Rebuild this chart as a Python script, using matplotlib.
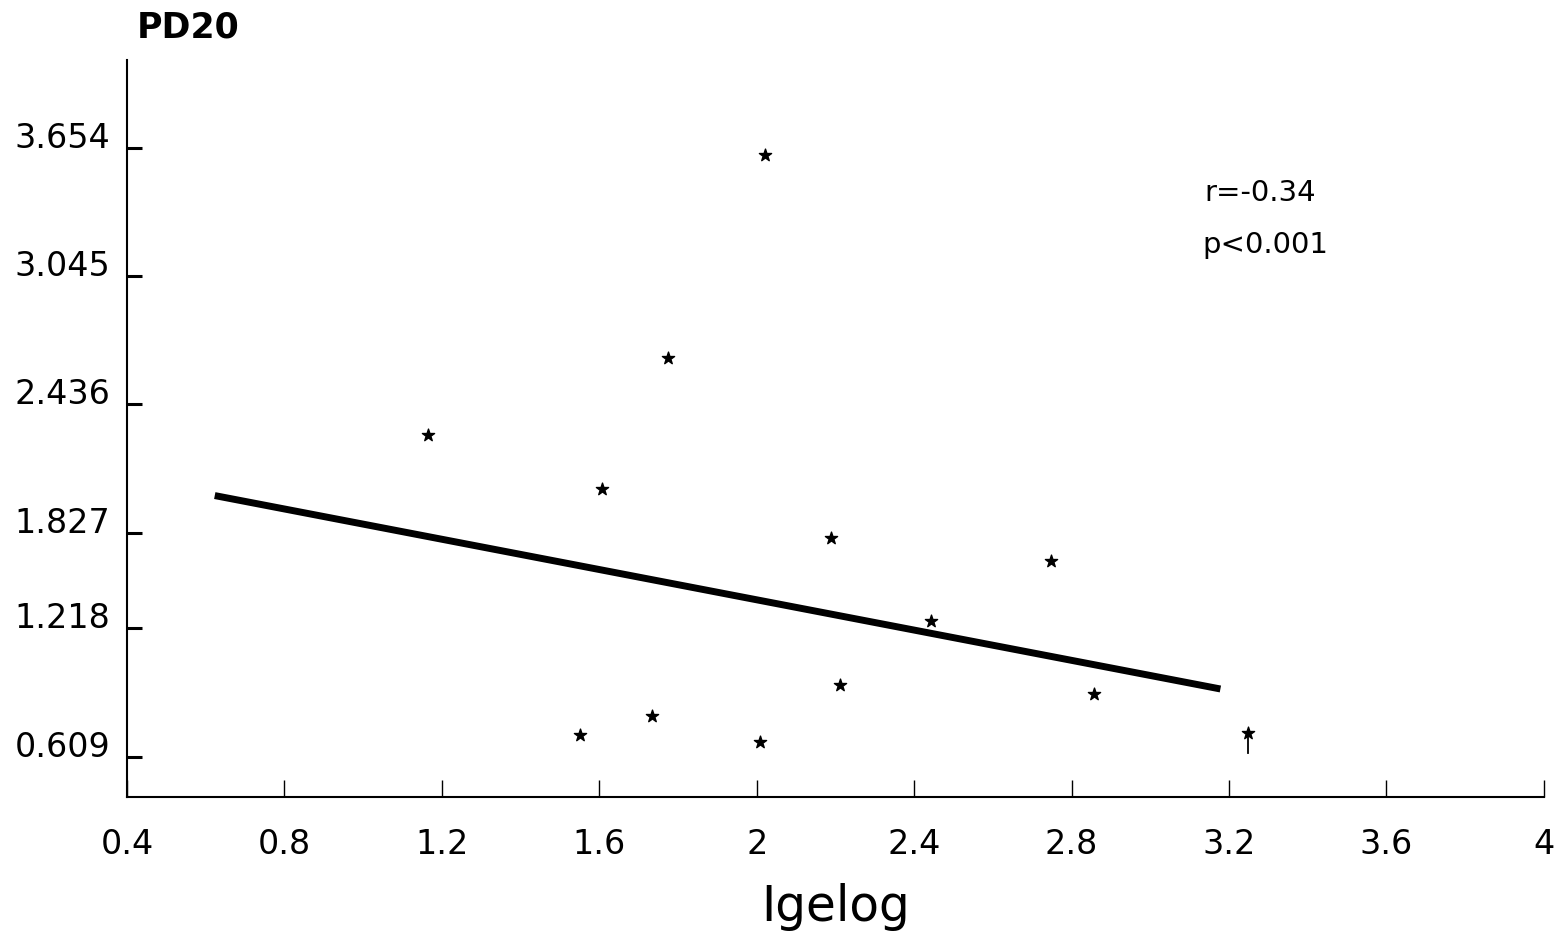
import matplotlib
matplotlib.use("Agg")
import matplotlib.pyplot as plt

# data
igelog = [1.166, 1.550, 1.606, 1.733, 1.775, 2.009, 2.020, 2.188, 2.211, 2.442, 2.747, 2.858, 3.249]
pd20 = [2.219, 0.717, 1.951, 0.814, 2.606, 0.682, 3.619, 1.704, 0.969, 1.289, 1.589, 0.924, 0.727]

# regression line end points
fit_x = [0.623, 3.178]
fit_y = [1.916, 0.949]

# little stem under the last point
stem_x = 3.249
stem_y = [0.727, 0.629]

xticks = [0.4, 0.8, 1.2, 1.6, 2.0, 2.4, 2.8, 3.2, 3.6, 4.0]
xtick_labels = ["0.4", "0.8", "1.2", "1.6", "2", "2.4", "2.8", "3.2", "3.6", "4"]
# the printed y ticks are not evenly spaced on the original
yticks = [0.609, 1.254, 1.729, 2.374, 3.014, 3.654]
ytick_labels = ["0.609", "1.218", "1.827", "2.436", "3.045", "3.654"]

plt.rcParams['font.family'] = ['DejaVu Sans']

fig = plt.figure(figsize=(15.6, 9.33), dpi=100)
ax = fig.add_axes([0.0814, 0.1458, 0.9083, 0.7899])

ax.plot(fit_x, fit_y, color='black', linewidth=5, solid_capstyle='butt')
ax.scatter(igelog, pd20, marker='*', s=85, color='black', zorder=3)
ax.plot([stem_x, stem_x], stem_y, color='black', linewidth=1.3)

ax.set_xlim(0.4, 4.0)
ax.set_ylim(0.409, 4.094)

ax.spines['top'].set_visible(False)
ax.spines['right'].set_visible(False)
ax.spines['left'].set_linewidth(1.5)
ax.spines['bottom'].set_linewidth(1.5)

ax.set_xticks(xticks)
ax.set_xticklabels(xtick_labels, fontsize=24)
ax.set_yticks(yticks)
ax.set_yticklabels(ytick_labels, fontsize=24)
for lab in ax.get_yticklabels():
    lab.set_va('baseline')
ax.tick_params(axis='x', direction='in', length=12, width=1, pad=22)
ax.tick_params(axis='y', direction='in', length=11, width=2.2, pad=12)

ax.set_xlabel("Igelog", fontsize=35, labelpad=16)
fig.text(0.0878, 0.971, "PD20", fontsize=25, fontweight='bold', ha='left', va='center')

fig.text(0.772, 0.793, "r=-0.34", fontsize=21, ha='left', va='center')
fig.text(0.771, 0.737, "p<0.001", fontsize=21, ha='left', va='center')

fig.savefig("out.png", dpi=100, facecolor='white')
